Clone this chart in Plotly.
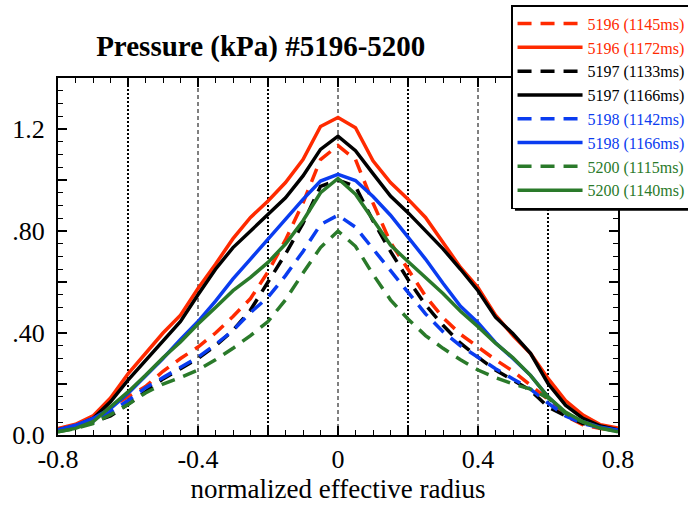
import plotly.graph_objects as go

radius = [-0.80, -0.75, -0.70, -0.65, -0.60, -0.55, -0.50, -0.45, -0.40, -0.35, -0.30,
          -0.25, -0.20, -0.15, -0.10, -0.05, 0.00, 0.05, 0.10, 0.15, 0.20, 0.25,
          0.30, 0.35, 0.40, 0.45, 0.50, 0.55, 0.60, 0.65, 0.70, 0.75, 0.80]

p5196_1145 = [0.020, 0.035, 0.060, 0.110, 0.150, 0.190, 0.250, 0.300, 0.345, 0.400, 0.465,
              0.535, 0.640, 0.765, 0.910, 1.080, 1.135, 1.080, 0.910, 0.755, 0.650, 0.545,
              0.460, 0.395, 0.345, 0.295, 0.250, 0.195, 0.140, 0.075, 0.040, 0.025, 0.020]
p5196_1172 = [0.025, 0.042, 0.075, 0.145, 0.240, 0.320, 0.400, 0.470, 0.575, 0.670, 0.770,
              0.853, 0.918, 0.990, 1.080, 1.210, 1.245, 1.205, 1.075, 0.990, 0.925, 0.853,
              0.755, 0.657, 0.578, 0.470, 0.390, 0.320, 0.222, 0.135, 0.078, 0.040, 0.027]
p5197_1133 = [0.015, 0.030, 0.050, 0.075, 0.120, 0.170, 0.220, 0.260, 0.300, 0.350, 0.410,
              0.490, 0.600, 0.710, 0.830, 0.975, 1.000, 0.975, 0.840, 0.720, 0.610, 0.510,
              0.430, 0.360, 0.305, 0.255, 0.215, 0.175, 0.110, 0.075, 0.045, 0.030, 0.015]
p5197_1166 = [0.020, 0.035, 0.065, 0.130, 0.215, 0.290, 0.370, 0.445, 0.550, 0.650, 0.735,
              0.800, 0.866, 0.930, 1.016, 1.120, 1.172, 1.115, 1.025, 0.937, 0.872, 0.800,
              0.730, 0.650, 0.566, 0.462, 0.397, 0.320, 0.202, 0.117, 0.065, 0.035, 0.020]
p5198_1142 = [0.018, 0.030, 0.050, 0.090, 0.135, 0.185, 0.225, 0.265, 0.305, 0.355, 0.410,
              0.480, 0.540, 0.625, 0.720, 0.825, 0.862, 0.815, 0.730, 0.645, 0.565, 0.475,
              0.405, 0.350, 0.305, 0.260, 0.220, 0.180, 0.125, 0.075, 0.045, 0.028, 0.015]
p5198_1166 = [0.020, 0.038, 0.065, 0.104, 0.163, 0.230, 0.300, 0.375, 0.445, 0.525, 0.612,
              0.690, 0.768, 0.846, 0.924, 0.996, 1.022, 0.998, 0.935, 0.862, 0.775, 0.690,
              0.595, 0.505, 0.440, 0.362, 0.300, 0.234, 0.150, 0.085, 0.052, 0.030, 0.020]
p5200_1115 = [0.013, 0.025, 0.045, 0.080, 0.120, 0.165, 0.200, 0.225, 0.255, 0.295, 0.340,
              0.390, 0.445, 0.530, 0.635, 0.735, 0.800, 0.740, 0.630, 0.530, 0.455, 0.390,
              0.340, 0.295, 0.255, 0.225, 0.200, 0.180, 0.145, 0.085, 0.050, 0.028, 0.013]
p5200_1140 = [0.013, 0.026, 0.052, 0.110, 0.169, 0.234, 0.303, 0.365, 0.435, 0.500, 0.566,
              0.618, 0.677, 0.749, 0.840, 0.950, 1.006, 0.944, 0.845, 0.745, 0.680, 0.618,
              0.555, 0.485, 0.425, 0.360, 0.303, 0.234, 0.150, 0.090, 0.052, 0.026, 0.013]

series_names = ["5196 (1145ms)", "5196 (1172ms)", "5197 (1133ms)", "5197 (1166ms)",
                "5198 (1142ms)", "5198 (1166ms)", "5200 (1115ms)", "5200 (1140ms)"]
series_values = [p5196_1145, p5196_1172, p5197_1133, p5197_1166,
                 p5198_1142, p5198_1166, p5200_1115, p5200_1140]
series_colors = ["#ff2a00", "#ff2a00", "#000000", "#000000",
                 "#0a3cf0", "#0a3cf0", "#2a7a2a", "#2a7a2a"]
series_dashed = [True, False, True, False, True, False, True, False]

x_tickvals = [-0.8, -0.6, -0.4, -0.2, 0.0, 0.2, 0.4, 0.6, 0.8]
x_ticktext = ["-0.8", "", "-0.4", "", "0", "", "0.4", "", "0.8"]
y_tickvals = [0.0, 0.2, 0.4, 0.6, 0.8, 1.0, 1.2, 1.4]
y_ticktext = ["0.0", "", ".40", "", ".80", "", "1.2", ""]
bold_grid = [-0.6, -0.2, 0.2, 0.6]
thin_grid = [-0.4, 0.0, 0.4]

FONT = "Liberation Serif"

fig = go.Figure()
for name, vals, col, dashed in zip(series_names, series_values, series_colors, series_dashed):
    fig.add_trace(go.Scatter(
        x=radius, y=vals, mode="lines",
        name=f"<span style='color:{col}'>{name}</span>",
        line=dict(color=col, width=3.5, dash="14px,9px" if dashed else "solid"),
    ))

shapes = []
for xv in bold_grid:
    shapes.append(dict(type="line", xref="x", yref="paper", x0=xv, x1=xv, y0=0, y1=1,
                       line=dict(color="black", width=2, dash="2px,2px"), layer="below"))
for xv in thin_grid:
    shapes.append(dict(type="line", xref="x", yref="paper", x0=xv, x1=xv, y0=0, y1=1,
                       line=dict(color="black", width=1, dash="4px,3px"), layer="below"))
# legend drop shadow
shapes.append(dict(type="rect", xref="paper", yref="paper",
                   x0=0.816, x1=1.14, y0=0.628, y1=1.19,
                   fillcolor="black", line=dict(width=0), layer="above"))

axis_common = dict(showline=True, linecolor="black", linewidth=2, mirror="allticks",
                   ticks="inside", ticklen=9, tickwidth=1.5, tickcolor="black",
                   showgrid=False, zeroline=False, automargin=False,
                   tickfont=dict(family=FONT, size=26, color="black"))

fig.update_layout(
    width=688, height=506,
    margin=dict(l=58, r=70, t=78, b=71, autoexpand=False),
    paper_bgcolor="white", plot_bgcolor="white",
    font=dict(family=FONT, color="black"),
    title=dict(text="<b>Pressure (kPa) #5196-5200</b>", x=0.379, xanchor="center",
               y=0.909, yanchor="middle", font=dict(family=FONT, size=29, color="black")),
    xaxis=dict(range=[-0.8, 0.8], tickvals=x_tickvals, ticktext=x_ticktext,
               minor=dict(dtick=0.05, tick0=0, ticks="inside", ticklen=5, tickcolor="black", tickwidth=1),
               title=dict(text="normalized effective radius", font=dict(family=FONT, size=27), standoff=2),
               **axis_common),
    yaxis=dict(range=[0, 1.4], tickvals=y_tickvals, ticktext=y_ticktext,
               minor=dict(dtick=0.05, tick0=0, ticks="inside", ticklen=5, tickcolor="black", tickwidth=1),
               ticklabelstandoff=6,
               **axis_common),
    shapes=shapes,
    showlegend=True,
    legend=dict(x=0.809, y=1.204, xanchor="left", yanchor="top",
                bgcolor="white", bordercolor="black", borderwidth=1.5,
                font=dict(family=FONT, size=16), itemwidth=65,
                tracegroupgap=0),
)

fig.write_html("out.html", config={"displayModeBar": False},
               post_script="document.body.style.margin='0';document.body.style.padding='0';")
